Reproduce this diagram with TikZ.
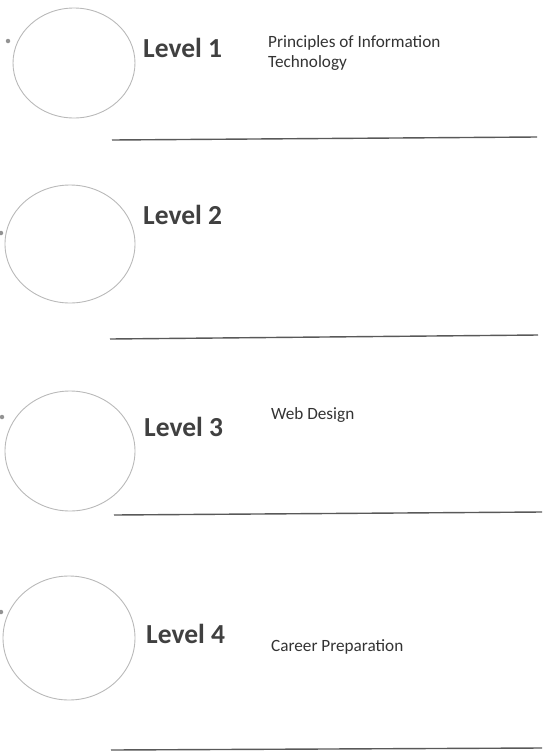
\documentclass[tikz,border=0pt]{standalone}
\usepackage{fontspec}
\setmainfont{Carlito}
\usetikzlibrary{shapes.geometric}

\begin{document}
\begin{tikzpicture}[
    x=1pt, y=-1pt,
    % Style definitions
    ring/.style={draw=gray!55, line width=0.9pt, ellipse, inner sep=0pt, outer sep=0pt},
    speck/.style={circle, fill=gray!85, inner sep=0pt, minimum size=4.5pt},
    rule/.style={draw=black!65, line width=1.4pt},
    % Text styles
    level text/.style={font=\fontsize{27.5}{32}\selectfont\bfseries, text=black!75, anchor=base west, inner sep=0pt},
    course text/.style={font=\fontsize{17.2}{20}\selectfont, text=black!80, anchor=base west, inner sep=0pt}
]

% Page frame
\useasboundingbox (0,0) rectangle (544,753);

% ==========================================
% 1. LEVEL 1
% ==========================================

\node[ring, minimum width=122pt, minimum height=110pt] (c1) at (74,63) {};
\node[speck] (d1) at (8,41) {};
\node[level text] (lv1) at (143,57) {Level 1};
\node[course text] (pit1) at (268,47) {Principles of Information};
\node[course text] (pit2) at (268,67) {Technology};

\coordinate (r1a) at (112,140);
\coordinate (r1b) at (537,137);
\draw[rule] (r1a) -- (r1b);

% ==========================================
% 2. LEVEL 2
% ==========================================

\node[ring, minimum width=130pt, minimum height=118pt] (c2) at (70,244) {};
\node[speck] (d2) at (1,233) {};
\node[level text] (lv2) at (143,224) {Level 2};

\coordinate (r2a) at (110,339);
\coordinate (r2b) at (538,335);
\draw[rule] (r2a) -- (r2b);

% ==========================================
% 3. LEVEL 3
% ==========================================

\node[ring, minimum width=130pt, minimum height=120pt] (c3) at (70,451) {};
\node[speck] (d3) at (2,417) {};
\node[level text] (lv3) at (144,436) {Level 3};
\node[course text] (web) at (271,419) {Web Design};

\coordinate (r3a) at (114,515);
\coordinate (r3b) at (542,512);
\draw[rule] (r3a) -- (r3b);

% ==========================================
% 4. LEVEL 4
% ==========================================

\node[ring, minimum width=132pt, minimum height=124pt] (c4) at (69,638) {};
\node[speck] (d4) at (1,612) {};
\node[level text] (lv4) at (146,643) {Level 4};
\node[course text] (career) at (271,651) {Career Preparation};

\coordinate (r4a) at (111,750);
\coordinate (r4b) at (542,748);
\draw[rule] (r4a) -- (r4b);

\end{tikzpicture}
\end{document}
